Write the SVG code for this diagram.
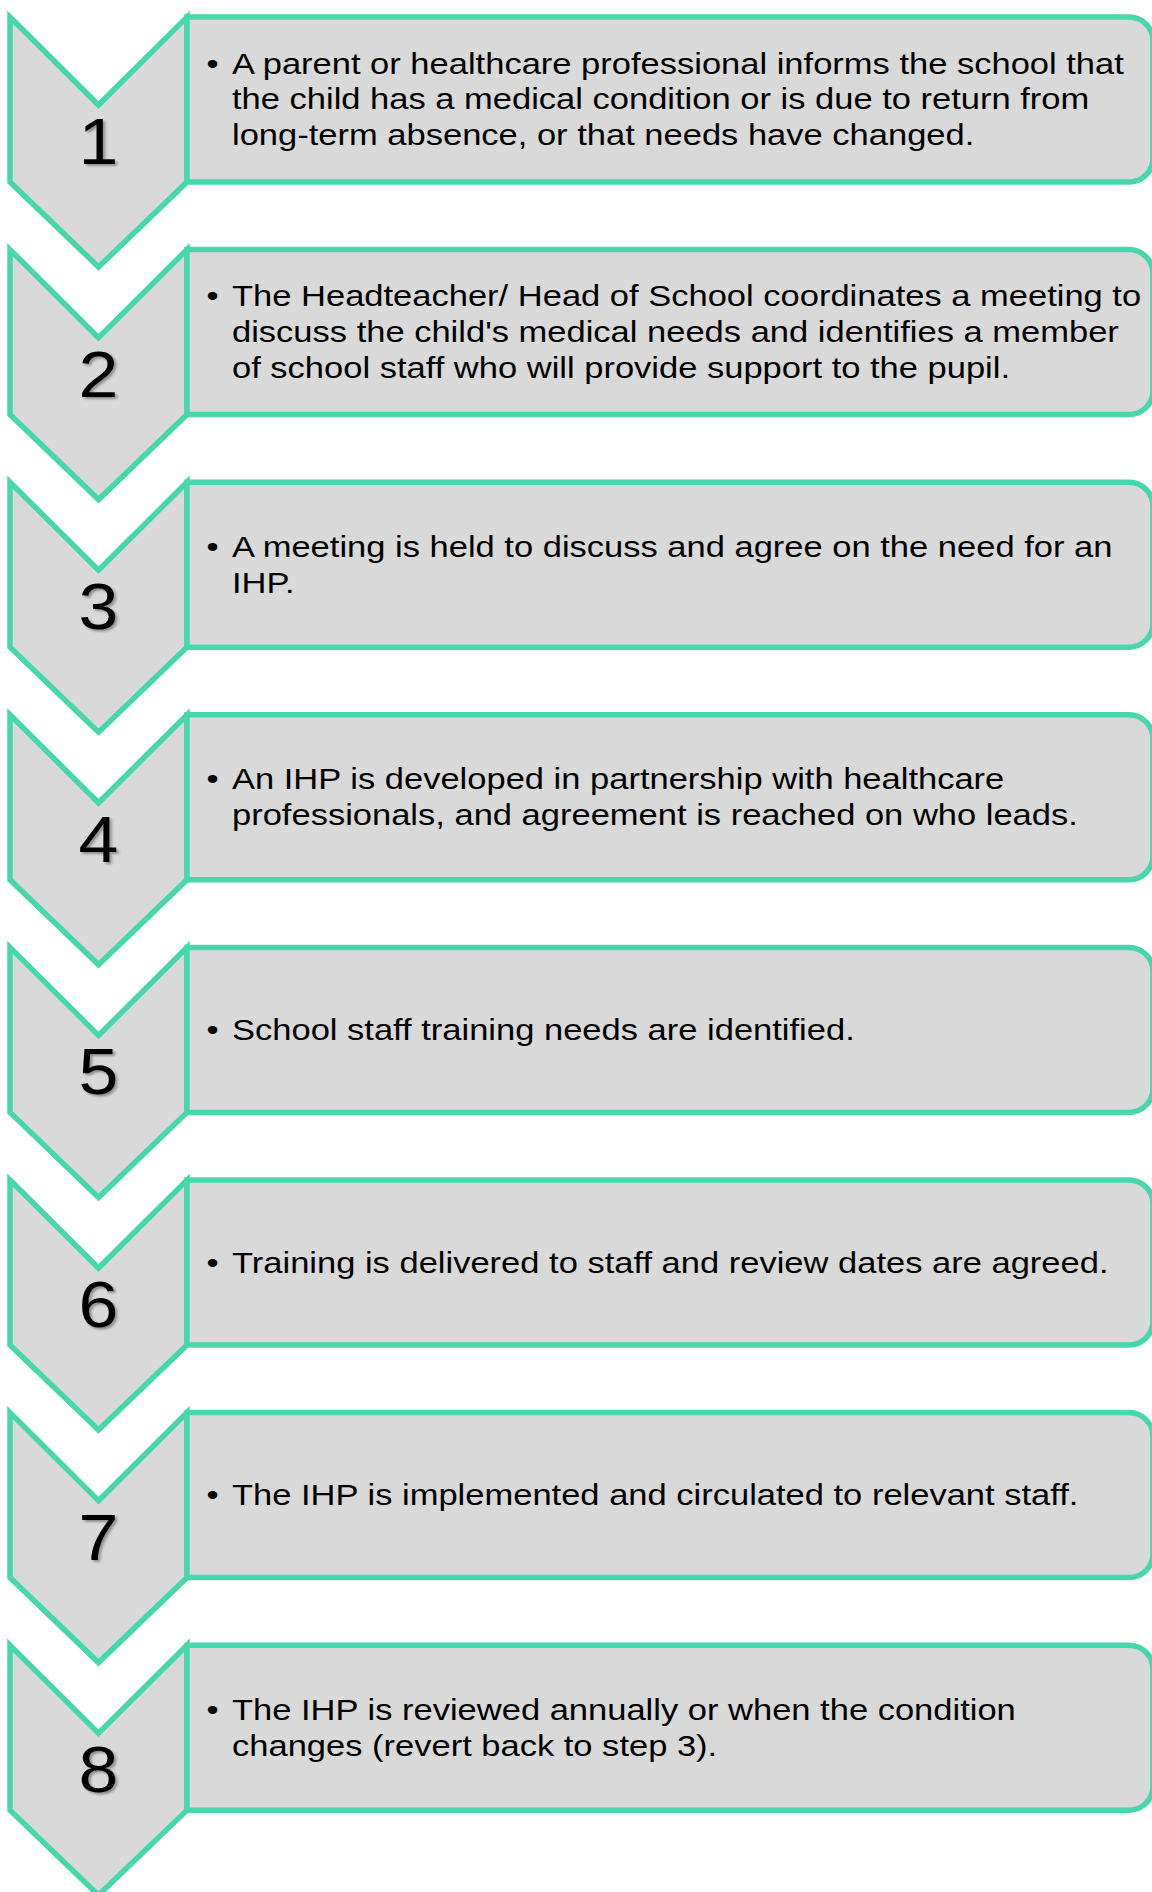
<svg xmlns="http://www.w3.org/2000/svg" width="1152" height="1892" viewBox="0 0 1152 1892">
  <defs>
    <style>
      .chev { fill: #d9d9d9; stroke: #47d7ac; stroke-width: 5.5; stroke-linejoin: miter; }
      .box { fill: #d9d9d9; stroke: #47d7ac; stroke-width: 5.5; }
      .num { font-family: "Liberation Sans", Arial, sans-serif; font-size: 64px; fill: #000; text-anchor: middle; filter: url(#numShadow); }
      .body { font-family: "Liberation Sans", Arial, sans-serif; font-size: 29.5px; fill: #000; }
    </style>
    <filter id="numShadow" x="-30%" y="-30%" width="160%" height="160%">
      <feDropShadow dx="2" dy="2" stdDeviation="1.2" flood-color="#000" flood-opacity="0.35"/>
    </filter>
    <!-- one step: chevron + rounded panel, positioned by the group transform -->
    <polygon id="chevShape" points="10,0 98.5,88 187,0 187,165 98.5,250 10,165"/>
    <path id="boxShape" d="M187,0 H1129 A24,24 0 0 1 1153,24 V141 A24,24 0 0 1 1129,165 H187 Z"/>
  </defs>
  <rect width="1152" height="1892" fill="#ffffff"/>

  <g id="step1" transform="translate(0,17)">
    <use href="#chevShape" class="chev"/>
    <use href="#boxShape" class="box"/>
    <text class="num" transform="translate(98.5,147) scale(1.12,1)">1</text>
    <text class="body" transform="translate(206.5,56.5) scale(1.17,1)">•</text>
    <text class="body" transform="translate(232,56.5) scale(1.17,1)">
      <tspan x="0" y="0">A parent or healthcare professional informs the school that</tspan>
      <tspan x="0" y="36">the child has a medical condition or is due to return from</tspan>
      <tspan x="0" y="72">long-term absence, or that needs have changed.</tspan>
    </text>
  </g>

  <g id="step2" transform="translate(0,249.6)">
    <use href="#chevShape" class="chev"/>
    <use href="#boxShape" class="box"/>
    <text class="num" transform="translate(98.5,147) scale(1.12,1)">2</text>
    <text class="body" transform="translate(206.5,56.5) scale(1.17,1)">•</text>
    <text class="body" transform="translate(232,56.5) scale(1.17,1)">
      <tspan x="0" y="0">The Headteacher/ Head of School coordinates a meeting to</tspan>
      <tspan x="0" y="36">discuss the child's medical needs and identifies a member</tspan>
      <tspan x="0" y="72">of school staff who will provide support to the pupil.</tspan>
    </text>
  </g>

  <g id="step3" transform="translate(0,482.2)">
    <use href="#chevShape" class="chev"/>
    <use href="#boxShape" class="box"/>
    <text class="num" transform="translate(98.5,147) scale(1.12,1)">3</text>
    <text class="body" transform="translate(206.5,74.5) scale(1.17,1)">•</text>
    <text class="body" transform="translate(232,74.5) scale(1.17,1)">
      <tspan x="0" y="0">A meeting is held to discuss and agree on the need for an</tspan>
      <tspan x="0" y="36">IHP.</tspan>
    </text>
  </g>

  <g id="step4" transform="translate(0,714.8)">
    <use href="#chevShape" class="chev"/>
    <use href="#boxShape" class="box"/>
    <text class="num" transform="translate(98.5,147) scale(1.12,1)">4</text>
    <text class="body" transform="translate(206.5,74.5) scale(1.17,1)">•</text>
    <text class="body" transform="translate(232,74.5) scale(1.17,1)">
      <tspan x="0" y="0">An IHP is developed in partnership with healthcare</tspan>
      <tspan x="0" y="36">professionals, and agreement is reached on who leads.</tspan>
    </text>
  </g>

  <g id="step5" transform="translate(0,947.4)">
    <use href="#chevShape" class="chev"/>
    <use href="#boxShape" class="box"/>
    <text class="num" transform="translate(98.5,147) scale(1.12,1)">5</text>
    <text class="body" transform="translate(206.5,92.5) scale(1.17,1)">•</text>
    <text class="body" transform="translate(232,92.5) scale(1.17,1)">School staff training needs are identified.</text>
  </g>

  <g id="step6" transform="translate(0,1180)">
    <use href="#chevShape" class="chev"/>
    <use href="#boxShape" class="box"/>
    <text class="num" transform="translate(98.5,147) scale(1.12,1)">6</text>
    <text class="body" transform="translate(206.5,92.5) scale(1.17,1)">•</text>
    <text class="body" transform="translate(232,92.5) scale(1.17,1)">Training is delivered to staff and review dates are agreed.</text>
  </g>

  <g id="step7" transform="translate(0,1412.6)">
    <use href="#chevShape" class="chev"/>
    <use href="#boxShape" class="box"/>
    <text class="num" transform="translate(98.5,147) scale(1.12,1)">7</text>
    <text class="body" transform="translate(206.5,92.5) scale(1.17,1)">•</text>
    <text class="body" transform="translate(232,92.5) scale(1.17,1)">The IHP is implemented and circulated to relevant staff.</text>
  </g>

  <g id="step8" transform="translate(0,1645.2)">
    <use href="#chevShape" class="chev"/>
    <use href="#boxShape" class="box"/>
    <text class="num" transform="translate(98.5,147) scale(1.12,1)">8</text>
    <text class="body" transform="translate(206.5,74.5) scale(1.17,1)">•</text>
    <text class="body" transform="translate(232,74.5) scale(1.17,1)">
      <tspan x="0" y="0">The IHP is reviewed annually or when the condition</tspan>
      <tspan x="0" y="36">changes (revert back to step 3).</tspan>
    </text>
  </g>
</svg>
